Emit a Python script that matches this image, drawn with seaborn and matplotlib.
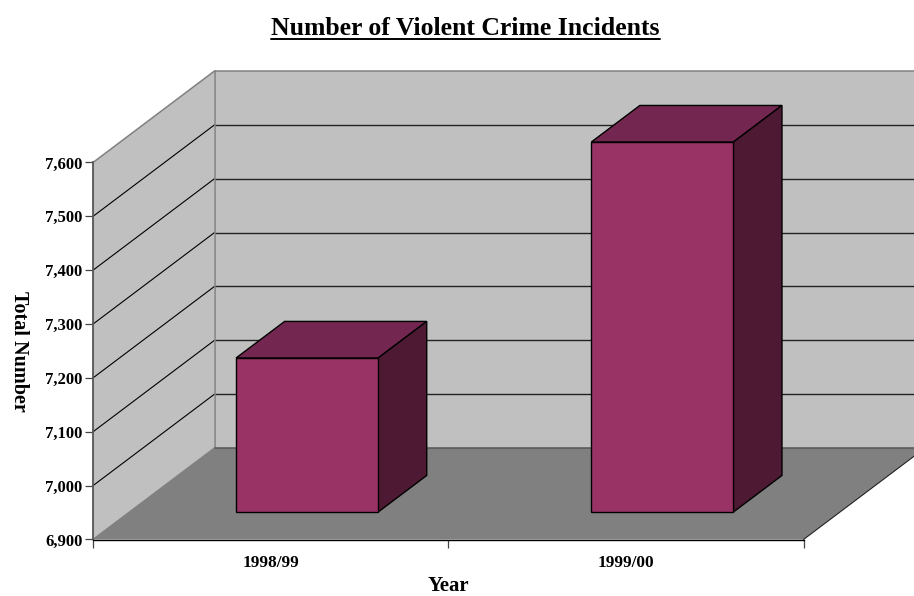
import matplotlib

matplotlib.use("Agg")

import matplotlib.pyplot as plt
import numpy as np
import seaborn as sns
from matplotlib.lines import Line2D
from matplotlib.patches import Polygon
from matplotlib.ticker import FuncFormatter
from matplotlib.transforms import Affine2D, IdentityTransform

YEARS = ["1998/99", "1999/00"]
INCIDENTS = [7186, 7587]
Y_TICKS = [6900, 7000, 7100, 7200, 7300, 7400, 7500, 7600]

TITLE = "Number of Violent Crime Incidents"
X_LABEL = "Year"
Y_LABEL = "Total Number"

# depth of the fake 3d box, in pixels
DEPTH = np.array([121.5, 91.5])
BAR_NEAR = 0.3
BAR_FAR = 0.7

WALL = "#C0C0C0"
FLOOR = "#808080"
BAR_FRONT = "#993366"
BAR_TOP = "#732650"
BAR_SIDE = "#4D1933"
SERIF = "Liberation Serif"

sns.set_style("white")
plt.rcParams["font.family"] = [SERIF, "DejaVu Sans"]
plt.rcParams["font.weight"] = "bold"
plt.rcParams["text.color"] = "black"
plt.rcParams["axes.labelcolor"] = "black"
plt.rcParams["xtick.labelcolor"] = "black"
plt.rcParams["ytick.labelcolor"] = "black"

fig = plt.figure(figsize=(9.14, 5.96), dpi=100)
ax = fig.add_axes([93 / 914, 56.5 / 596, 710.5 / 914, 377 / 596])
ax.patch.set_visible(False)

sns.barplot(
    x=YEARS,
    y=INCIDENTS,
    width=0.4,
    color=BAR_FRONT,
    saturation=1,
    edgecolor="black",
    linewidth=1.0,
    ax=ax,
)
ax.set_xlim(-0.5, 1.5)
ax.set_ylim(Y_TICKS[0], Y_TICKS[-1])
ax.set_autoscale_on(False)


def project(x, value, z):
    return ax.transData.transform((x, value)) + z * DEPTH


def add_face(points, color, edge="none", lw=0.0, zorder=1):
    ax.add_patch(
        Polygon(
            points,
            closed=True,
            facecolor=color,
            edgecolor=edge,
            linewidth=lw,
            transform=IdentityTransform(),
            clip_on=False,
            zorder=zorder,
        )
    )


def add_line(start, end, color, lw=0.8, zorder=1.5):
    xs, ys = zip(start, end)
    ax.add_line(
        Line2D(xs, ys, color=color, lw=lw, transform=IdentityTransform(), clip_on=False, zorder=zorder)
    )


x0, x1 = ax.get_xlim()
y0, y1 = ax.get_ylim()

# walls and floor
add_face([project(x0, y0, 1), project(x1, y0, 1), project(x1, y1, 1), project(x0, y1, 1)], WALL)
add_face([project(x0, y0, 0), project(x0, y0, 1), project(x0, y1, 1), project(x0, y1, 0)], WALL)
add_face([project(x0, y0, 0), project(x1, y0, 0), project(x1, y0, 1), project(x0, y0, 1)], FLOOR)

# gridlines, running along the side wall and the back wall
for tick in Y_TICKS[1:-1]:
    add_line(project(x0, tick, 0), project(x0, tick, 1), "#000000", 0.8)
    add_line(project(x0, tick, 1), project(x1, tick, 1), "#222222", 1.0)

add_line(project(x0, y1, 0), project(x0, y1, 1), "#808080", 1.1)
add_line(project(x0, y1, 1), project(x1, y1, 1), "#808080", 1.1)
add_line(project(x0, y0, 1), project(x0, y1, 1), "#808080", 1.1)
add_line(project(x0, y0, 0), project(x0, y0, 1), "#808080", 1.1)
add_line(project(x0, y0, 1), project(x1, y0, 1), "#555555", 1.1)
add_line(project(x1, y0, 0), project(x1, y0, 1), "#222222", 0.8)

# turn the seaborn bars into boxes standing on the floor
near = Affine2D().translate(*(BAR_NEAR * DEPTH))
for patch in ax.patches[: len(YEARS)]:
    left = patch.get_x()
    right = left + patch.get_width()
    top = patch.get_height()
    patch.set_y(y0)
    patch.set_height(top - y0)
    patch.set_transform(ax.transData + near)
    patch.set_clip_on(False)
    patch.set_zorder(4)
    add_face(
        [project(left, top, BAR_NEAR), project(right, top, BAR_NEAR),
         project(right, top, BAR_FAR), project(left, top, BAR_FAR)],
        BAR_TOP, "black", 1.0, 3,
    )
    add_face(
        [project(right, y0, BAR_NEAR), project(right, y0, BAR_FAR),
         project(right, top, BAR_FAR), project(right, top, BAR_NEAR)],
        BAR_SIDE, "black", 1.0, 3,
    )

# axes
sns.despine(ax=ax, top=True, right=True)
ax.spines["left"].set(color="#555555", linewidth=1.3, zorder=5)
ax.spines["bottom"].set(color="black", linewidth=1.0, zorder=5)

ax.set_yticks(Y_TICKS)
ax.yaxis.set_major_formatter(FuncFormatter(lambda v, _: f"{v:,.0f}"))
ax.tick_params(axis="y", left=True, length=5.5, width=0.9, color="#444444", pad=2, labelsize=12)

ax.set_xticks([-0.5, 0.5, 1.5], labels=[])
ax.set_xticks([0, 1], labels=YEARS, minor=True)
ax.tick_params(axis="x", which="major", bottom=True, length=6, width=0.9, color="#444444")
ax.tick_params(axis="x", which="minor", bottom=False, length=0, pad=11, labelsize=12.4)

ax.set_ylabel(Y_LABEL, fontsize=14.5, fontweight="bold", rotation=270, va="center")
ax.yaxis.set_label_coords(-0.104, 0.5)

# kept just inside the bottom edge of the picture
fig.text(448.3 / 914, 1 - 591 / 596, X_LABEL, ha="center", va="baseline", fontsize=15, fontweight="bold")

title = fig.text(465.5 / 914, 1 - 35 / 596, TITLE, ha="center", va="baseline", fontsize=18.5, fontweight="bold")

# matplotlib has no underlined text, so rule it under the title
fig.canvas.draw()
box = title.get_window_extent()
fig.add_artist(
    Line2D(
        [box.x0, box.x1],
        [596 - 38.5, 596 - 38.5],
        color="black",
        lw=1.4,
        transform=IdentityTransform(),
    )
)

fig.savefig("out.png", dpi=100)
plt.close(fig)
